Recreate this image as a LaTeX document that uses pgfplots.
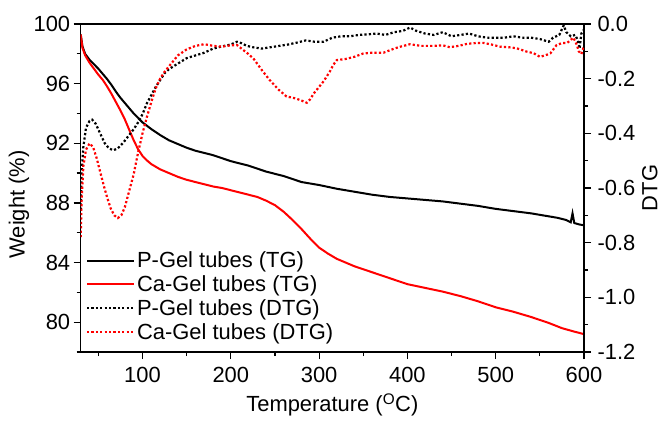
\documentclass[border=0pt]{standalone}
\usepackage{fontspec}
\setmainfont{Liberation Sans}
\usepackage{pgfplots}
\pgfplotsset{compat=1.18}
\begin{document}
\begin{tikzpicture}
\pgfplotsset{
  every axis/.append style={
    font=\fontsize{22}{25}\selectfont,
    scale only axis, width=503.3bp, height=328bp,
    at={(0,0)}, anchor=south west,
    xmin=30, xmax=600,
    axis line style={line width=1.2bp},
    every tick/.style={line width=1.2bp, black},
    tick align=outside, major tick length=7bp, minor tick length=4bp,
    /pgf/number format/assume math mode=true,
  },
}
\begin{axis}[
  ymin=78, ymax=100,
  ytick={80,84,88,92,96,100}, minor ytick={78,82,86,90,94,98},
  xtick={100,200,300,400,500,600}, minor xtick={50,150,250,350,450,550},
  xtick pos=bottom, ytick pos=left,
  xticklabel style={yshift=-5bp},
  ylabel={Weight (\%)},
  xlabel={Temperature (\textsuperscript{O}C)},
  ylabel style={at={(axis description cs:-0.1226,0.45)}, anchor=center},
  xlabel style={at={(axis description cs:0.5,-0.1616)}, anchor=center},
]
\addplot[black, line width=2bp] coordinates {
(30,99.3)(32,98.5)(35,98.0)(40,97.6)(45,97.3)(50,97.0)(55,96.65)(60,96.3)(65,95.9)(70,95.45)(75,95.05)(80,94.7)(85,94.35)(90,94.0)(95,93.7)(100,93.4)(110,92.95)(120,92.55)(130,92.2)(140,91.95)(150,91.7)(160,91.5)(170,91.35)(180,91.2)(190,91.0)(200,90.8)(210,90.65)(220,90.5)(230,90.3)(240,90.1)(250,89.95)(260,89.8)(270,89.6)(280,89.4)(290,89.3)(300,89.2)(320,88.95)(340,88.75)(360,88.55)(380,88.4)(400,88.3)(420,88.2)(440,88.1)(460,87.95)(480,87.8)(500,87.6)(520,87.45)(540,87.3)(560,87.1)(570,87.0)(580,86.85)(585,86.7)(587,87.3)(589,86.65)(595,86.55)(600,86.5)
};
\addplot[red, line width=2bp] coordinates {
(30,99.3)(32,98.4)(35,97.9)(40,97.4)(45,97.0)(50,96.6)(55,96.25)(60,95.8)(65,95.3)(70,94.75)(75,94.2)(80,93.6)(85,92.9)(90,92.2)(95,91.6)(100,91.15)(105,90.85)(110,90.6)(120,90.25)(130,90.0)(140,89.75)(150,89.55)(160,89.4)(170,89.25)(180,89.1)(190,89.0)(200,88.85)(210,88.7)(220,88.55)(230,88.4)(240,88.15)(250,87.85)(260,87.4)(270,86.85)(280,86.25)(290,85.6)(300,85.0)(310,84.6)(320,84.25)(330,84.0)(340,83.75)(350,83.55)(360,83.35)(380,82.95)(400,82.55)(420,82.3)(440,82.05)(460,81.75)(480,81.4)(500,81.0)(520,80.7)(540,80.35)(560,79.95)(575,79.6)(590,79.35)(600,79.2)
};
\end{axis}
\begin{axis}[
  axis y line*=right, axis x line=none,
  ymin=-1.2, ymax=0,
  ytick={-1.2,-1.0,-0.8,-0.6,-0.4,-0.2,0}, minor ytick={-1.1,-0.9,-0.7,-0.5,-0.3,-0.1},
  yticklabel style={xshift=3bp, /pgf/number format/.cd, fixed, fixed zerofill, precision=1},
  ylabel={DTG},
  ylabel style={at={(axis description cs:1.131,0.5)}, anchor=center},
  legend style={at={(axis description cs:0.004,0.318)}, anchor=north west, draw=none, fill=none, row sep=2.5bp},
  legend cell align=left,
  legend image code/.code={\draw[#1] (0bp,0bp) -- (47bp,0bp);},
]
\addlegendimage{black, line width=2bp}
\addlegendentry{P-Gel tubes (TG)}
\addlegendimage{red, line width=2bp}
\addlegendentry{Ca-Gel tubes (TG)}
\addplot[black, line width=2.2bp, dash pattern=on 2.2bp off 2.2bp] coordinates {
(30,-0.68)(31,-0.55)(33,-0.45)(36,-0.38)(40,-0.355)(43,-0.35)(47,-0.365)(52,-0.40)(57,-0.435)(62,-0.455)(67,-0.462)(72,-0.455)(78,-0.435)(84,-0.41)(90,-0.385)(95,-0.36)(100,-0.33)(105,-0.29)(110,-0.26)(115,-0.23)(120,-0.205)(125,-0.18)(130,-0.165)(140,-0.145)(150,-0.125)(160,-0.115)(170,-0.105)(180,-0.09)(190,-0.082)(200,-0.075)(207,-0.065)(212,-0.07)(218,-0.08)(225,-0.085)(235,-0.09)(245,-0.085)(255,-0.08)(265,-0.075)(275,-0.068)(285,-0.06)(295,-0.065)(305,-0.065)(315,-0.05)(325,-0.045)(335,-0.045)(345,-0.04)(355,-0.038)(365,-0.035)(375,-0.04)(385,-0.03)(395,-0.025)(403,-0.013)(410,-0.025)(420,-0.035)(430,-0.04)(440,-0.03)(450,-0.045)(460,-0.04)(470,-0.035)(480,-0.045)(490,-0.05)(500,-0.05)(510,-0.05)(520,-0.045)(530,-0.05)(540,-0.05)(550,-0.055)(560,-0.065)(565,-0.05)(572,-0.04)(577,-0.005)(580,-0.03)(585,-0.045)(590,-0.04)(593,-0.06)(595,-0.09)(597,-0.035)(600,-0.02)
};
\addlegendentry{P-Gel tubes (DTG)}
\addplot[red, line width=2.2bp, dash pattern=on 2.2bp off 2.2bp] coordinates {
(30,-0.78)(31,-0.65)(33,-0.52)(36,-0.46)(40,-0.437)(44,-0.45)(48,-0.49)(52,-0.54)(56,-0.59)(60,-0.635)(64,-0.675)(68,-0.70)(72,-0.71)(76,-0.70)(80,-0.67)(85,-0.61)(90,-0.55)(95,-0.47)(100,-0.40)(105,-0.34)(110,-0.285)(115,-0.235)(120,-0.2)(125,-0.175)(130,-0.155)(140,-0.115)(150,-0.093)(160,-0.08)(170,-0.074)(180,-0.08)(190,-0.083)(200,-0.078)(207,-0.077)(214,-0.095)(220,-0.11)(226,-0.128)(235,-0.168)(244,-0.205)(254,-0.24)(263,-0.265)(273,-0.272)(280,-0.28)(286,-0.288)(290,-0.275)(294,-0.254)(300,-0.23)(305,-0.21)(312,-0.175)(316,-0.15)(320,-0.132)(330,-0.128)(340,-0.12)(350,-0.108)(360,-0.105)(373,-0.105)(385,-0.09)(392,-0.083)(403,-0.074)(415,-0.08)(430,-0.08)(440,-0.078)(448,-0.085)(458,-0.08)(467,-0.073)(476,-0.07)(486,-0.069)(495,-0.075)(505,-0.083)(515,-0.085)(524,-0.089)(534,-0.1)(543,-0.107)(550,-0.12)(556,-0.115)(562,-0.107)(569,-0.077)(575,-0.07)(581,-0.069)(588,-0.05)(592,-0.077)(594,-0.10)(597,-0.11)(600,-0.08)
};
\addlegendentry{Ca-Gel tubes (DTG)}
\end{axis}
\pgfresetboundingbox
\path[use as bounding box] (-80.7bp,-69bp) rectangle (583.3bp,352bp);
\end{tikzpicture}
\end{document}
